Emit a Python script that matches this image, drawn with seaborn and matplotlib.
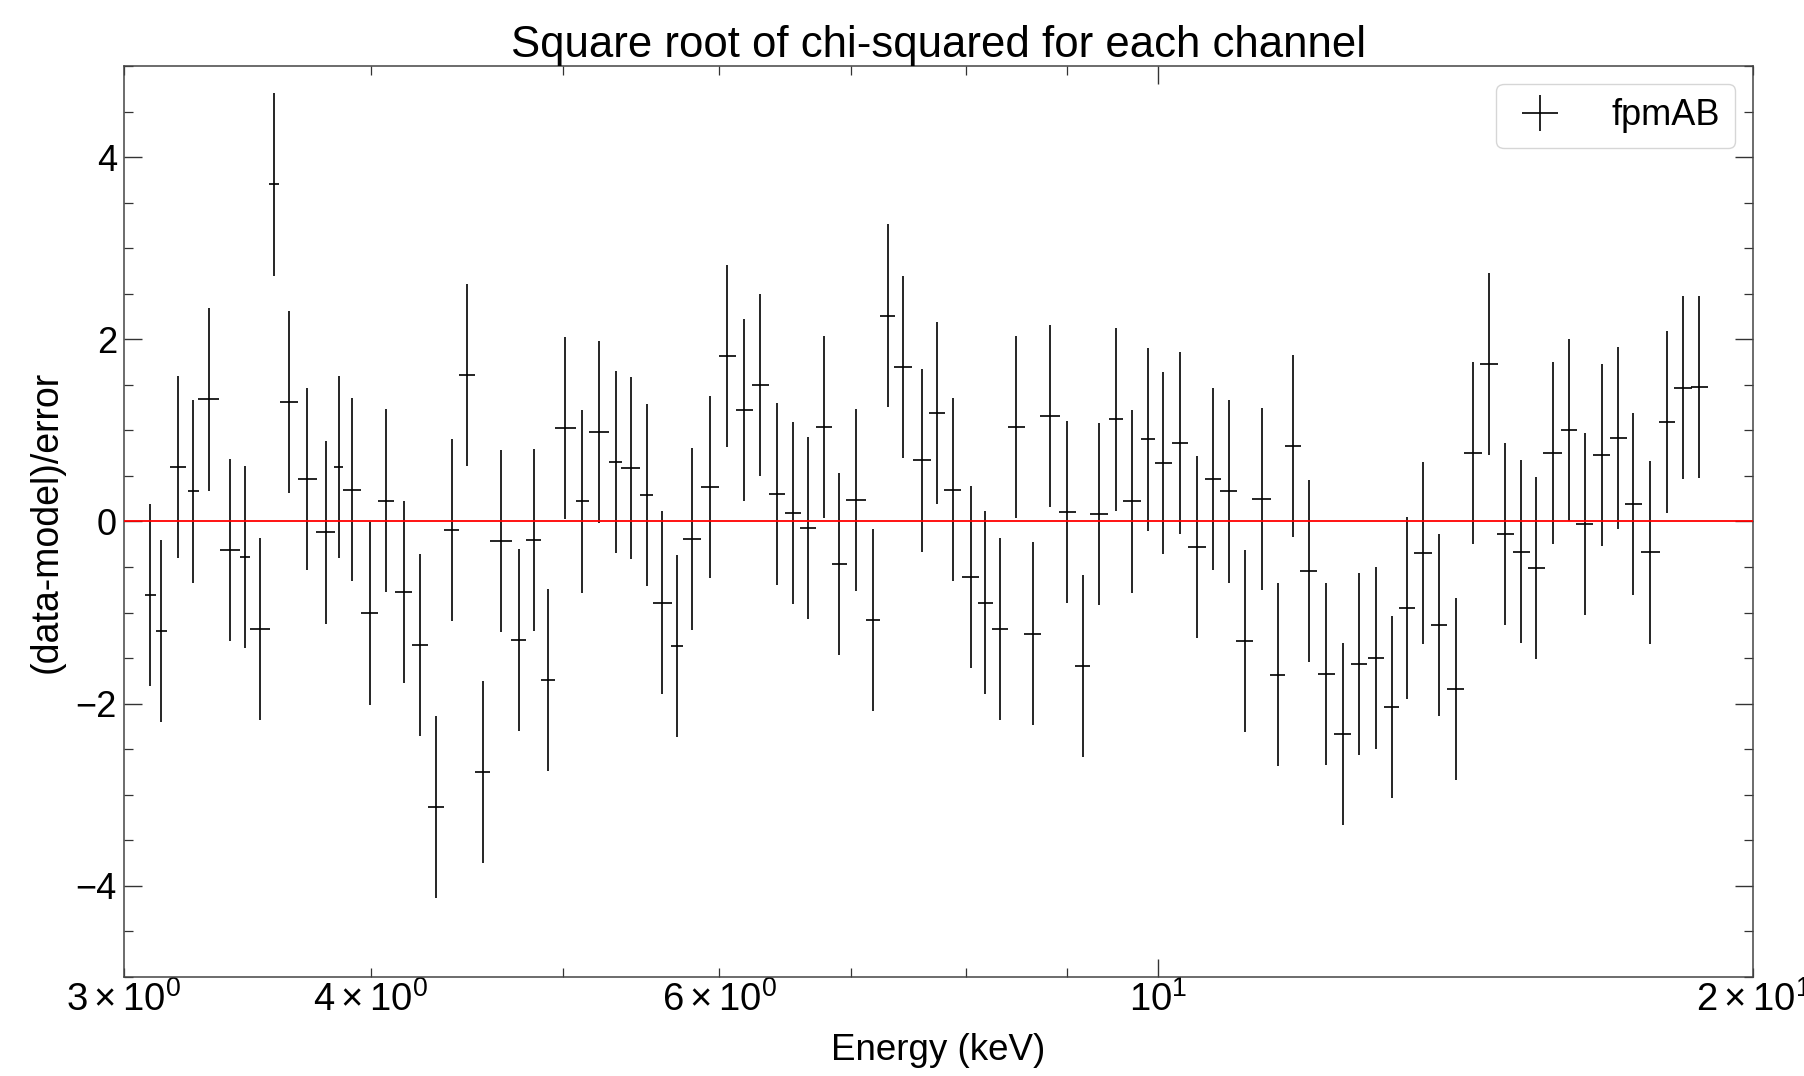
import numpy as np
import pandas as pd
import matplotlib
matplotlib.use("Agg")
import matplotlib.pyplot as plt
import seaborn as sns

energy = [3.094, 3.133, 3.196, 3.253, 3.312, 3.395, 3.454, 3.515, 3.573, 3.636, 3.715, 3.794,
          3.853, 3.914, 3.995, 4.071, 4.155, 4.235, 4.316, 4.394, 4.474, 4.556, 4.655, 4.751,
          4.834, 4.915, 5.016, 5.117, 5.217, 5.318, 5.415, 5.515, 5.617, 5.715, 5.816, 5.938,
          6.057, 6.178, 6.296, 6.417, 6.538, 6.655, 6.779, 6.900, 7.038, 7.178, 7.300, 7.434, 7.600,
          7.734, 7.876, 8.041, 8.180, 8.320, 8.483, 8.643, 8.822, 8.999, 9.162, 9.338, 9.524,
          9.703, 9.886, 10.063, 10.264, 10.465, 10.666, 10.862, 11.063, 11.285, 11.500, 11.708,
          11.923, 12.167, 12.405,
          12.64, 12.89, 13.13, 13.37, 13.62, 13.88, 14.15, 14.44, 14.71, 14.99, 15.27, 15.54,
          15.84, 16.14, 16.44, 16.77, 17.10, 17.40, 17.75, 18.09, 18.44, 18.79]

residual = [-0.81, -1.20, 0.60, 0.33, 1.34, -0.31, -0.39, -1.18, 3.70, 1.31, 0.47, -0.12,
            0.60, 0.35, -1.01, 0.23, -0.77, -1.36, -3.13, -0.09, 1.61, -2.75, -0.21, -1.30,
            -0.20, -1.74, 1.03, 0.22, 0.98, 0.65, 0.59, 0.29, -0.89, -1.37, -0.19, 0.38,
            1.82, 1.22, 1.50, 0.30, 0.09, -0.07, 1.04, -0.47, 0.24, -1.08, 2.26, 1.70, 0.67,
            1.19, 0.35, -0.61, -0.89, -1.18, 1.04, -1.23, 1.16, 0.10, -1.59, 0.08, 1.12,
            0.22, 0.90, 0.64, 0.86, -0.28, 0.47, 0.33, -1.31, 0.25, -1.68, 0.83,
            -0.54, -1.67, -2.33,
            -1.56, -1.50, -2.04, -0.95, -0.35, -1.14, -1.84, 0.75, 1.73, -0.14, -0.33, -0.51,
            0.75, 1.00, -0.03, 0.73, 0.92, 0.19, -0.34, 1.09, 1.47, 1.48]

energy_halfwidth = [0.02, 0.02, 0.03, 0.02, 0.04, 0.04, 0.02, 0.04, 0.02, 0.04, 0.04, 0.04,
                    0.02, 0.04, 0.04, 0.04, 0.04, 0.04, 0.04, 0.04, 0.04, 0.04, 0.06, 0.04,
                    0.04, 0.04, 0.06, 0.04, 0.06, 0.04, 0.06, 0.04, 0.06, 0.04, 0.06, 0.06,
                    0.06, 0.06, 0.06, 0.06, 0.06, 0.06, 0.06, 0.06, 0.08, 0.06, 0.06, 0.08, 0.08,
                    0.07, 0.08, 0.08, 0.07, 0.08, 0.08, 0.09, 0.10, 0.09, 0.08, 0.10, 0.08,
                    0.10, 0.08, 0.10, 0.10, 0.11, 0.10, 0.11, 0.11, 0.12, 0.10, 0.11,
                    0.12, 0.12, 0.12,
                    0.12, 0.12, 0.12, 0.12, 0.15, 0.13, 0.14, 0.15, 0.15, 0.15, 0.15, 0.15,
                    0.17, 0.15, 0.16, 0.17, 0.17, 0.17, 0.19, 0.17, 0.19, 0.18]

residual_error = 1.0
series_label = "fpmAB"

df = pd.DataFrame({"energy": energy, "residual": residual, "xerr": energy_halfwidth})

sns.set_theme(style="ticks")
plt.rcParams["font.family"] = ["Liberation Sans", "DejaVu Sans"]
plt.rcParams["mathtext.fontset"] = "custom"
plt.rcParams["mathtext.rm"] = "Liberation Sans"
plt.rcParams["mathtext.it"] = "Liberation Sans:italic"
plt.rcParams["mathtext.bf"] = "Liberation Sans:bold"
plt.rcParams["text.color"] = "black"
plt.rcParams["axes.labelcolor"] = "black"

fig = plt.figure(figsize=(18.04, 10.76), dpi=100)
ax = fig.add_axes([0.0687, 0.092, 0.9030, 0.8467])

ax.errorbar(df["energy"], df["residual"], xerr=df["xerr"], yerr=residual_error,
            fmt="none", ecolor="black", elinewidth=1.2, capsize=0, label=series_label)
ax.axhline(0, color="red", lw=1.3, zorder=3)

ax.set_xscale("log")
ax.set_xlim(3, 20)
ax.set_ylim(-5, 5)
ax.set_yticks([-4, -2, 0, 2, 4])
ax.yaxis.set_minor_locator(matplotlib.ticker.MultipleLocator(0.5))

ax.tick_params(which="both", direction="in", top=True, right=True, colors="#333333",
               labelcolor="black", labelsize=26)
ax.tick_params(which="major", length=13, width=1.0)
ax.tick_params(which="minor", length=6.5, width=0.9)
ax.tick_params(axis="x", which="both", pad=3, labelsize=27.5)
ax.tick_params(axis="y", which="both", pad=5)
for s in ax.spines.values():
    s.set_color("#444444")
    s.set_linewidth(1.1)

ax.set_title("Square root of chi-squared for each channel", fontsize=31.5, pad=6)
ax.set_xlabel("Energy (keV)", fontsize=26.5, labelpad=10)
ax.set_ylabel("(data-model)/error", fontsize=27, labelpad=8)

leg = ax.legend(loc="upper right", fontsize=26, frameon=True, fancybox=True,
                borderaxespad=0.5, handlelength=1.6, handletextpad=1.2,
                borderpad=0.4)
leg.get_frame().set_edgecolor("#cccccc")
leg.get_frame().set_linewidth(1.0)

fig.savefig("out.png", dpi=100)
